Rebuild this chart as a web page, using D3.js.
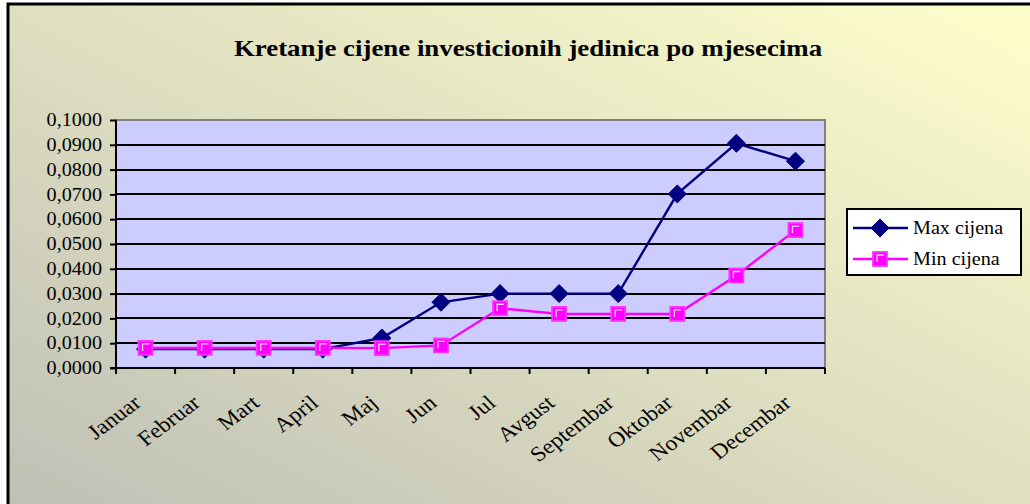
<!DOCTYPE html>
<html>
<head>
<meta charset="utf-8">
<script src="https://cdn.jsdelivr.net/npm/d3@7"></script>
<style>
	body { margin: 0; padding: 0; overflow: hidden; }
	svg { display: block; }
</style>
</head>
<body>
<svg id="chart" width="1030" height="504"></svg>
<script>
	var months = ['Januar', 'Februar', 'Mart', 'April', 'Maj', 'Jun', 'Jul', 'Avgust', 'Septembar', 'Oktobar', 'Novembar', 'Decembar'];
	var maxCijena = [0.0076, 0.0076, 0.0076, 0.0076, 0.0121, 0.0265, 0.0300, 0.0300, 0.0300, 0.0702, 0.0906, 0.0834];
	var minCijena = [0.0081, 0.0081, 0.0081, 0.0081, 0.0080, 0.0091, 0.0241, 0.0218, 0.0218, 0.0218, 0.0373, 0.0556];
	var yTicks = [0, 0.01, 0.02, 0.03, 0.04, 0.05, 0.06, 0.07, 0.08, 0.09, 0.1];

	var svg = d3.select('#chart');
	var W = 1030, H = 504;
	var SX = 1.12;       // the source picture is stretched a bit horizontally
	var FONT = '"Liberation Serif", "Times New Roman", serif';

	// text helper: places text at (x,y), stretched horizontally, optional rotation
	function stext(g, px, py, str, size, anchor, rot) {
		var t = 'translate(' + px + ',' + py + ') scale(' + SX + ',1)' + (rot ? ' rotate(' + rot + ')' : '');
		return g.append('text')
			.attr('transform', t)
			.attr('text-anchor', anchor || 'start')
			.style('font-family', FONT)
			.style('font-size', size + 'px')
			.attr('fill', 'black')
			.text(str);
	}

	// background gradient (grey bottom-left -> pale yellow top-right)
	var defs = svg.append('defs');
	var grad = defs.append('linearGradient').attr('id', 'bg')
		.attr('x1', '0').attr('y1', '1').attr('x2', '1').attr('y2', '0');
	grad.append('stop').attr('offset', '0%').attr('stop-color', '#bebeb6');
	grad.append('stop').attr('offset', '100%').attr('stop-color', '#ffffcc');

	svg.append('rect').attr('x', 0).attr('y', 0).attr('width', W).attr('height', H).attr('fill', 'white');
	svg.append('rect').attr('x', 8).attr('y', 4).attr('width', W + 20).attr('height', H + 20)
		.attr('fill', 'url(#bg)').attr('stroke', 'black').attr('stroke-width', 3);

	stext(svg, 528, 56, 'Kretanje cijene investicionih jedinica po mjesecima', 24, 'middle')
		.style('font-weight', 'bold');

	var plot = {left: 116, top: 120, right: 825, bottom: 368};

	var x = d3.scaleBand().domain(months).range([plot.left, plot.right]).padding(0);
	var y = d3.scaleLinear().domain([0, 0.1]).range([plot.bottom, plot.top]);

	// plot area
	svg.append('rect')
		.attr('x', plot.left).attr('y', plot.top)
		.attr('width', plot.right - plot.left).attr('height', plot.bottom - plot.top)
		.attr('fill', '#ccccff').attr('stroke', '#808080').attr('stroke-width', 2);

	// gridlines
	svg.append('g').selectAll('line').data(yTicks.slice(1, -1)).enter().append('line')
		.attr('x1', plot.left).attr('x2', plot.right)
		.attr('y1', function (d) { return Math.round(y(d)); })
		.attr('y2', function (d) { return Math.round(y(d)); })
		.attr('stroke', 'black').attr('stroke-width', 2);

	var fmt = function (d) { return d3.format('.4f')(d).replace('.', ','); };

	// y axis: ticks through d3 axis, labels drawn stretched
	var yAxis = d3.axisLeft(y).tickValues(yTicks).tickFormat('').tickSize(6);
	var yg = svg.append('g').attr('transform', 'translate(' + plot.left + ',0)').call(yAxis);
	yg.select('.domain').attr('stroke', 'black').attr('stroke-width', 2).attr('d', 'M0,' + plot.top + 'V' + plot.bottom);
	yg.selectAll('.tick line').attr('stroke', 'black').attr('stroke-width', 2);
	yTicks.forEach(function (d) {
		stext(svg, 102, y(d), fmt(d), 18, 'end').attr('dy', '0.34em');
	});

	// x axis (ticks at category boundaries)
	var boundaries = months.map(function (m) { return x(m); }).concat([plot.right]);
	var xg = svg.append('g');
	xg.append('line').attr('x1', plot.left - 6).attr('x2', plot.right)
		.attr('y1', plot.bottom).attr('y2', plot.bottom)
		.attr('stroke', 'black').attr('stroke-width', 2);
	xg.selectAll('line.tick').data(boundaries).enter().append('line').attr('class', 'tick')
		.attr('x1', function (d) { return d; }).attr('x2', function (d) { return d; })
		.attr('y1', plot.bottom).attr('y2', plot.bottom + 6)
		.attr('stroke', 'black').attr('stroke-width', 2);
	months.forEach(function (m) {
		stext(xg, x(m) + x.bandwidth() / 2 - 3, 405, m, 21, 'end', -40);
	});

	var cx = function (i) { return x(months[i]) + x.bandwidth() / 2; };

	var line = d3.line()
		.x(function (d, i) { return cx(i); })
		.y(function (d) { return y(d); });

	function diamond(g, px, py) {
		g.append('path')
			.attr('d', 'M' + px + ',' + (py - 9) + 'L' + (px + 9) + ',' + py + 'L' + px + ',' + (py + 9) + 'L' + (px - 9) + ',' + py + 'Z')
			.attr('fill', '#000080').attr('stroke', '#000080').attr('stroke-width', 1);
	}

	function square(g, px, py) {
		g.append('rect')
			.attr('x', px - 7).attr('y', py - 7).attr('width', 14).attr('height', 14)
			.attr('fill', '#ff00ff').attr('stroke', '#ff33ff').attr('stroke-width', 1.8);
		g.append('path')
			.attr('d', 'M' + (px - 3) + ',' + (py + 3) + 'V' + (py - 4) + 'H' + (px + 4))
			.attr('fill', 'none').attr('stroke', '#ffd6ff').attr('stroke-width', 1.3);
	}

	var series = [
		{name: 'Max cijena', values: maxCijena, color: '#000080', marker: diamond},
		{name: 'Min cijena', values: minCijena, color: '#ff00ff', marker: square}
	];

	series.forEach(function (s) {
		var g = svg.append('g');
		g.append('path').datum(s.values).attr('d', line)
			.attr('fill', 'none').attr('stroke', s.color).attr('stroke-width', 2.4);
		s.values.forEach(function (v, i) { s.marker(g, cx(i), y(v)); });
	});

	// legend
	var lg = svg.append('g');
	lg.append('rect').attr('x', 847).attr('y', 209).attr('width', 174).attr('height', 66)
		.attr('fill', 'white').attr('stroke', 'black').attr('stroke-width', 2);
	series.forEach(function (s, i) {
		var ly = 228 + i * 31;
		lg.append('line').attr('x1', 853).attr('x2', 908).attr('y1', ly).attr('y2', ly)
			.attr('stroke', s.color).attr('stroke-width', 2.4);
		s.marker(lg, 880, ly);
		stext(lg, 913, ly, s.name, 18, 'start').attr('dy', '0.35em');
	});
</script>
</body>
</html>
